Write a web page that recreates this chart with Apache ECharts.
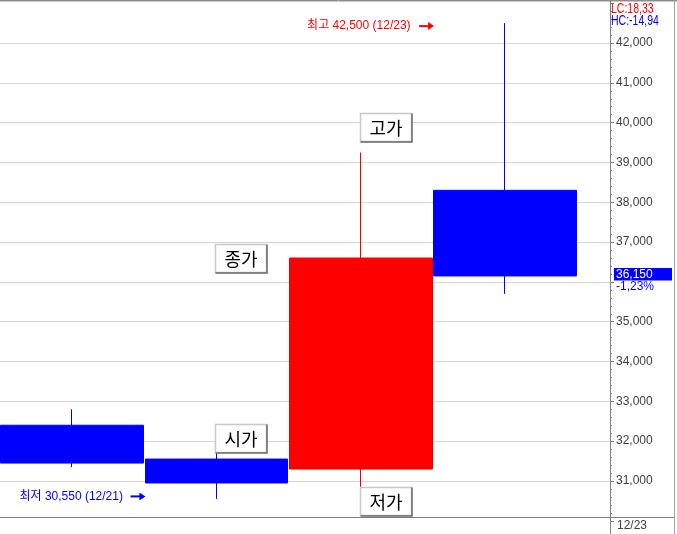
<!DOCTYPE html>
<html>
<head>
<meta charset="utf-8">
<script src="https://cdn.jsdelivr.net/npm/echarts@6/dist/echarts.min.js"></script>
<style>
  html, body { margin: 0; padding: 0; background: #fff; }
  #chart { width: 677px; height: 534px; }
</style>
</head>
<body>
<div id="chart"></div>
<script>
  // 일봉 데이터
  const dates = ['12/20', '12/21', '12/22', '12/23'];
  const openPrices = [32400, 31550, 31300, 38300];
  const closePrices = [31450, 30950, 36600, 36150];
  const lowPrices = [31350, 30550, 30850, 35700];
  const highPrices = [32800, 31700, 39250, 42500];

  // Y축 눈금
  const yMin = 30000;
  const yMax = 43000;
  const yStep = 1000;

  // 우측 상단 지표
  const lcText = 'LC:18,33';
  const hcText = 'HC:-14,94';

  const FONT = "'Liberation Sans', 'Noto Sans CJK KR', sans-serif";
  const KFONT = "'Noto Sans CJK KR', sans-serif";

  const fmt = v => v.toLocaleString('en-US');

  const candles = dates.map((d, i) => [i, openPrices[i], closePrices[i], lowPrices[i], highPrices[i]]);

  const chart = echarts.init(document.getElementById('chart'));

  chart.setOption({
    animation: false,
    backgroundColor: '#ffffff',

    grid: {
      left: 0,
      right: 67,
      top: 3.2,
      bottom: 13.2,
      outerBoundsMode: 'none'
    },

    xAxis: {
      type: 'value',
      min: -0.5,
      max: 3.727,
      show: false
    },

    yAxis: {
      type: 'value',
      position: 'right',
      min: yMin,
      max: yMax,
      interval: yStep,
      axisLine: {
        show: true,
        onZero: false,
        lineStyle: { color: '#808080' }
      },
      axisTick: {
        show: true,
        length: 4,
        lineStyle: { color: '#808080' }
      },
      minorTick: {
        show: true,
        splitNumber: 5,
        length: 2,
        lineStyle: { color: '#808080' }
      },
      axisLabel: {
        color: '#404040',
        fontSize: 12,
        fontFamily: FONT,
        margin: 6,
        showMinLabel: false,
        showMaxLabel: false,
        formatter: v => fmt(v)
      },
      splitLine: {
        show: true,
        showMinLine: false,
        showMaxLine: false,
        lineStyle: { color: '#d6d6d6' }
      }
    },

    series: [{
      type: 'candlestick',
      data: candles,
      encode: { x: 0, y: [1, 2, 3, 4] },
      barWidth: 143,
      silent: true,
      itemStyle: {
        color: '#ff0000',
        color0: '#0000ff',
        borderColor: '#ee0000',
        borderColor0: '#0000ff',
        borderWidth: 1
      }
    }]
  });

  // ---- 주석 ----
  const px = (i, v) => chart.convertToPixel({ gridIndex: 0 }, [i, v]);

  function txt(x, y, text, color, font, align) {
    return {
      type: 'text', z: 100,
      style: {
        text, x, y, fill: color, font,
        align: align || 'left', verticalAlign: 'middle',
        textAlign: align || 'left', textVerticalAlign: 'middle'
      }
    };
  }

  function arrow(tipX, y, color) {
    return [
      { type: 'rect', z: 100, shape: { x: tipX - 15, y: y - 1, width: 10, height: 2 }, style: { fill: color } },
      { type: 'polygon', z: 100, shape: { points: [[tipX - 6, y - 4], [tipX, y], [tipX - 6, y + 4]] }, style: { fill: color } }
    ];
  }

  function box(x, y, text) {
    return [
      { type: 'rect', z: 100, shape: { x: x + 0.5, y: y + 0.5, width: 51, height: 28 },
        style: { fill: '#ffffff', stroke: '#c8c8c8', lineWidth: 1.5 } },
      { type: 'polyline', z: 101, shape: { points: [[x + 52, y + 0.5], [x + 52, y + 29], [x + 0.5, y + 29]] },
        style: { stroke: '#6a6a6a', lineWidth: 1.5, fill: null } },
      txt(x + 26, y + 15, text, '#000000', '18px ' + KFONT, 'center')
    ];
  }

  function line(x1, y1, x2, y2, color) {
    return { type: 'line', z: 99, shape: { x1, y1, x2, y2 }, style: { stroke: color, lineWidth: 1 } };
  }

  function narrowTxt(x, y, text, color) {
    return {
      type: 'text', z: 100, x, y, scaleX: 0.75,
      style: { text, fill: color, font: '14px ' + FONT, verticalAlign: 'middle', textVerticalAlign: 'middle' }
    };
  }

  // 최고 / 최저
  const hi = Math.max(...highPrices);
  const hiIdx = highPrices.indexOf(hi);
  const lo = Math.min(...lowPrices);
  const loIdx = lowPrices.indexOf(lo);
  const hiPt = px(hiIdx, hi);
  const loPt = px(loIdx, lo);

  // 현재가
  const last = closePrices[closePrices.length - 1];
  const prev = closePrices[closePrices.length - 2];
  const pct = ((last - prev) / prev * 100).toFixed(2).replace('.', ',') + '%';
  const lastPt = px(closePrices.length - 1, last);

  const elements = [].concat(
    // 테두리
    [
      line(0, 0.5, 677, 0.5, '#8c8c8c'),
      line(0, 1.5, 677, 1.5, '#c8c8c8'),
      line(674.5, 0, 674.5, 534, '#a0a0a0'),
      line(0, 517.5, 674, 517.5, '#808080'),
      line(610.5, 0, 610.5, 534, '#808080')
    ],
    txt(hiPt[0] - 198, hiPt[1] + 3, '최고 ' + fmt(hi) + ' (' + dates[hiIdx] + ')', '#ff0000', '12px ' + FONT),
    arrow(hiPt[0] - 71, hiPt[1] + 3, '#ff0000'),
    txt(loPt[0] - 197, loPt[1] - 2.5, '최저 ' + fmt(lo) + ' (' + dates[loIdx] + ')', '#0000ff', '12px ' + FONT),
    arrow(loPt[0] - 71, loPt[1] - 2.5, '#0000ff'),
    box(360, 113, '고가'),
    box(215, 244, '종가'),
    box(215, 424, '시가'),
    box(360, 487, '저가'),
    [
      { type: 'rect', z: 99, shape: { x: 614, y: lastPt[1] - 8, width: 58, height: 26 }, style: { fill: '#ffffff' } },
      { type: 'rect', z: 100, shape: { x: 614, y: lastPt[1] - 8, width: 58, height: 12.5 }, style: { fill: '#0000ff' } },
      txt(616, lastPt[1] - 1.5, fmt(last), '#ffffff', '12px ' + FONT),
      txt(616, lastPt[1] + 10.5, pct, '#0000ff', '12px ' + FONT),
      narrowTxt(611, 9.5, lcText, '#ff0000'),
      narrowTxt(611, 21.5, hcText, '#0000ff'),
      txt(617, 526, dates[dates.length - 1], '#404040', '12px ' + FONT)
    ]
  );

  chart.setOption({ graphic: { elements } });
</script>
</body>
</html>
